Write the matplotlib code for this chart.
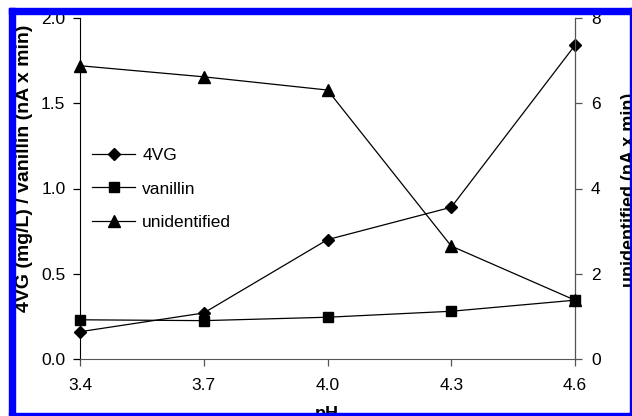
import matplotlib.pyplot as plt
from matplotlib.patches import Rectangle

plt.rcParams['font.family'] = ['Liberation Sans', 'DejaVu Sans']

# data
ph = [3.4, 3.7, 4.0, 4.3, 4.6]
vg4 = [0.16, 0.27, 0.70, 0.89, 1.84]
vanillin = [0.23, 0.225, 0.245, 0.28, 0.345]
unidentified = [6.88, 6.62, 6.31, 2.65, 1.38]

W, H = 632, 416
fig = plt.figure(figsize=(6.32, 4.16), dpi=100)
ax = fig.add_axes([80 / W, 1 - 359 / H, (575 - 80) / W, (359 - 18) / H])
ax2 = ax.twinx()

l1, = ax.plot(ph, vg4, color='black', lw=0.9, marker='D', ms=6.5, clip_on=False, zorder=3)
l2, = ax.plot(ph, vanillin, color='black', lw=0.9, marker='s', ms=6.5, clip_on=False, zorder=3)
l3, = ax2.plot(ph, unidentified, color='black', lw=0.9, marker='^', ms=8, clip_on=False, zorder=3)

ax.set_xlim(3.4, 4.6)
ax.set_ylim(0, 2.0)
ax2.set_ylim(0, 8)
ax.set_xticks(ph)
ax.set_xticklabels(['3.4', '3.7', '4.0', '4.3', '4.6'])
ax.set_yticks([0, 0.5, 1.0, 1.5, 2.0])
ax.set_yticklabels(['0.0', '0.5', '1.0', '1.5', '2.0'])
ax2.set_yticks([0, 2, 4, 6, 8])

for a in (ax, ax2):
    a.spines['top'].set_visible(False)
    a.tick_params(labelsize=12.5, length=5, width=0.9, color='#555555')
ax.tick_params(axis='x', pad=8.5)
ax.tick_params(axis='y', color='black', pad=5.5)
ax2.tick_params(axis='y', pad=6.5)
ax.spines['left'].set_color('black')
ax.spines['bottom'].set_color('#555555')
ax2.spines['right'].set_color('#555555')
ax2.spines['left'].set_visible(False)
ax2.spines['bottom'].set_visible(False)

fig.text(16 / W, 1 - 168 / H, '4VG (mg/L) / vanillin (nA x min)', rotation=90,
         ha='left', va='center', fontsize=14, fontweight='bold')
fig.text(621 / W, 1 - 190 / H, 'unidentified (nA x min)', rotation=90,
         ha='left', va='center', fontsize=13, fontweight='bold')
fig.text(327 / W, 1 - 406 / H, 'pH', ha='center', va='top',
         fontsize=13, fontweight='bold')

fig.legend([l1, l2, l3], ['4VG', 'vanillin', 'unidentified'],
           loc='upper left', bbox_to_anchor=(92 / W, 1 - 148 / H),
           bbox_transform=fig.transFigure, frameon=False, fontsize=12.5,
           borderpad=0, borderaxespad=0, handlelength=2.5,
           handletextpad=0.4, labelspacing=1.05)

# blue frame around the picture
blue = '#0000ff'
for x0, y0, x1, y1 in [(9, 8, 15, 415), (9, 8, 632, 14),
                       (629.5, 8, 632, 415), (9, 413, 632, 415)]:
    fig.patches.append(Rectangle((x0 / W, 1 - y1 / H), (x1 - x0) / W, (y1 - y0) / H,
                                 transform=fig.transFigure, color=blue, zorder=10))

fig.savefig('out.png', dpi=100)
